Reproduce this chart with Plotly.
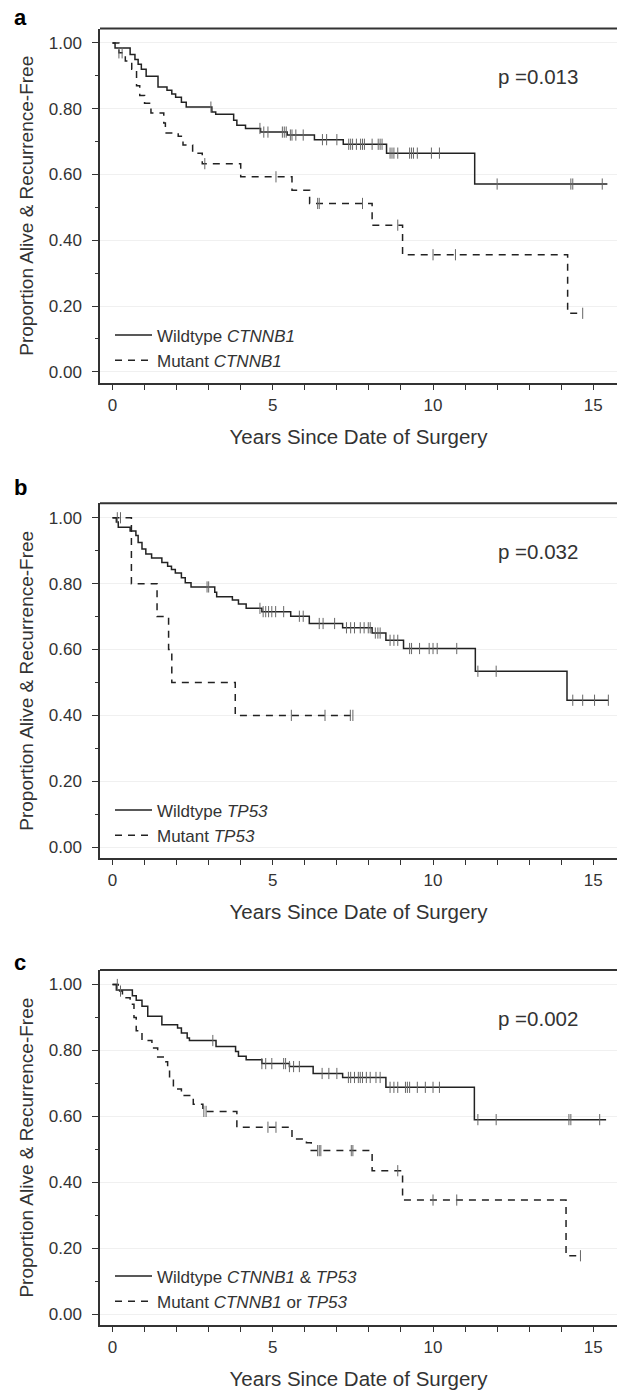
import numpy as np
import plotly.graph_objects as go

# ---------------- data ----------------
# Panel a: CTNNB1
a_wt_t = [0, 0.08, 0.55, 0.7, 0.8, 0.9, 1.05, 1.42, 1.7, 1.85, 1.97, 2.15, 2.3, 3.1, 3.22,
          3.78, 3.88, 4.15, 4.62, 5.45, 6.3, 7.2, 8.55, 11.3]
a_wt_s = [1.0, 0.985, 0.965, 0.95, 0.935, 0.92, 0.899, 0.866, 0.856, 0.845, 0.835, 0.82, 0.805,
          0.79, 0.783, 0.765, 0.75, 0.74, 0.729, 0.72, 0.706, 0.692, 0.665, 0.571]
a_wt_end = 15.44
a_wt_c = [3.07, 4.6, 4.72, 4.85, 5.3, 5.36, 5.42, 5.55, 5.6, 5.72, 5.95, 6.55, 6.68, 7.0, 7.37,
          7.43, 7.49, 7.61, 7.74, 7.8, 7.86, 8.1, 8.29, 8.35, 8.41, 8.66, 8.72, 8.78, 8.9, 9.27,
          9.33, 9.39, 9.51, 9.95, 10.2, 12.0, 14.3, 14.36, 15.28]

a_mu_t = [0, 0.2, 0.4, 0.6, 0.75, 0.85, 1.0, 1.2, 1.6, 1.65, 2.05, 2.2, 2.5, 2.8, 4.0, 5.6,
          6.15, 8.1, 9.05, 14.2]
a_mu_s = [1.0, 0.97, 0.945, 0.92, 0.87, 0.84, 0.817, 0.787, 0.757, 0.726, 0.716, 0.69, 0.665,
          0.633, 0.593, 0.552, 0.512, 0.446, 0.356, 0.178]
a_mu_end = 14.67
a_mu_c = [0.2, 0.3, 2.88, 5.1, 6.4, 6.45, 7.8, 8.9, 10.0, 10.7, 14.67]

# Panel b: TP53
b_wt_t = [0, 0.12, 0.18, 0.55, 0.73, 0.8, 0.92, 1.04, 1.22, 1.54, 1.72, 1.84, 1.96, 2.15, 2.27,
          2.45, 3.19, 3.25, 3.74, 3.93, 4.17, 4.66, 5.56, 6.14, 7.18, 8.1, 8.53, 9.08, 11.32, 14.18]
b_wt_s = [1.0, 0.987, 0.971, 0.96, 0.946, 0.925, 0.905, 0.89, 0.878, 0.864, 0.853, 0.843, 0.832,
          0.818, 0.803, 0.79, 0.774, 0.76, 0.75, 0.738, 0.725, 0.715, 0.701, 0.679, 0.666, 0.65,
          0.628, 0.603, 0.534, 0.446]
b_wt_end = 15.47
b_wt_c = [2.95, 3.0, 4.6, 4.7, 4.78, 4.87, 4.97, 5.09, 5.34, 5.83, 5.95, 6.45, 6.57, 6.93, 7.3,
          7.43, 7.55, 7.73, 7.85, 7.98, 8.04, 8.2, 8.28, 8.35, 8.66, 8.78, 8.9, 9.27, 9.33, 9.58,
          9.88, 10.0, 10.13, 10.74, 11.4, 11.97, 14.36, 14.67, 15.04, 15.47]

b_mu_t = [0, 0.59, 1.39, 1.75, 1.85, 3.83]
b_mu_s = [1.0, 0.8, 0.7, 0.6, 0.5, 0.4]
b_mu_end = 7.5
b_mu_c = [0.15, 0.25, 5.58, 6.63, 7.42, 7.5]

# Panel c: CTNNB1 & TP53
c_wt_t = [0, 0.12, 0.62, 0.74, 0.92, 1.1, 1.54, 2.03, 2.15, 2.33, 2.4, 3.23, 3.84, 3.93, 4.17,
          4.66, 5.52, 6.26, 7.18, 8.53, 11.29]
c_wt_s = [1.0, 0.983, 0.966, 0.952, 0.934, 0.904, 0.878, 0.868, 0.853, 0.838, 0.83, 0.812, 0.797,
          0.782, 0.772, 0.76, 0.751, 0.73, 0.718, 0.688, 0.59]
c_wt_end = 15.4
c_wt_c = [3.13, 4.66, 4.78, 4.97, 5.34, 5.4, 5.52, 5.65, 5.83, 6.54, 6.75, 7.0, 7.36, 7.43, 7.55,
          7.67, 7.73, 7.8, 7.92, 8.04, 8.22, 8.35, 8.66, 8.78, 8.9, 9.14, 9.2, 9.27, 9.51, 9.76,
          10.0, 10.2, 11.4, 11.97, 14.24, 14.3, 15.2]

c_mu_t = [0, 0.18, 0.31, 0.55, 0.67, 0.74, 0.92, 1.23, 1.41, 1.66, 1.72, 1.78, 1.9, 2.15, 2.52,
          2.82, 3.88, 5.6, 6.05, 6.2, 8.1, 9.05, 14.15]
c_mu_s = [1.0, 0.98, 0.96, 0.94, 0.90, 0.86, 0.83, 0.807, 0.78, 0.766, 0.745, 0.718, 0.683, 0.663,
          0.637, 0.615, 0.567, 0.531, 0.52, 0.496, 0.435, 0.346, 0.177]
c_mu_end = 14.65
c_mu_c = [0.15, 0.25, 2.85, 2.92, 4.85, 5.1, 6.4, 6.45, 6.5, 7.45, 7.5, 8.9, 10.0, 10.74, 14.6]

panel_letters = ["a", "b", "c"]
p_values = ["p =0.013", "p =0.032", "p =0.002"]
wt_names = ["Wildtype <i>CTNNB1</i>", "Wildtype <i>TP53</i>", "Wildtype <i>CTNNB1</i> & <i>TP53</i>"]
mu_names = ["Mutant <i>CTNNB1</i>", "Mutant <i>TP53</i>", "Mutant <i>CTNNB1</i> or <i>TP53</i>"]
x_title = "Years Since Date of Surgery"
y_title = "Proportion Alive & Recurrence-Free"

panels = [
    (a_wt_t, a_wt_s, a_wt_end, a_wt_c, a_mu_t, a_mu_s, a_mu_end, a_mu_c),
    (b_wt_t, b_wt_s, b_wt_end, b_wt_c, b_mu_t, b_mu_s, b_mu_end, b_mu_c),
    (c_wt_t, c_wt_s, c_wt_end, c_wt_c, c_mu_t, c_mu_s, c_mu_end, c_mu_c),
]

# ---------------- layout geometry ----------------
W, H = 617, 1391
FONT = "Liberation Sans, Arial, Helvetica, sans-serif"
TXT = "#333333"
LINE = "#222222"
CENS = "#666666"

# pixel boxes (top, bottom) of each plot panel
boxes = [(28.5, 383.0), (503.3, 858.3), (970.0, 1325.3)]
label_y = [18, 487, 962]
legend_mid = [348, 823, 1289]
x_left_px = 100

def step_value(t, s, x):
    t = np.asarray(t); s = np.asarray(s)
    idx = np.searchsorted(t, np.asarray(x), side="right") - 1
    return s[np.clip(idx, 0, len(s) - 1)]

fig = go.Figure()
layout = dict(
    width=W, height=H, margin=dict(l=0, r=0, t=0, b=0),
    paper_bgcolor="white", plot_bgcolor="white",
    font=dict(family=FONT, color=TXT, size=17),
    annotations=[], shapes=[],
)

for i, (wt_t, wt_s, wt_end, wt_c, mu_t, mu_s, mu_end, mu_c) in enumerate(panels):
    n = "" if i == 0 else str(i + 1)
    xa, ya = "x" + n, "y" + n
    leg = "legend" + n
    # curves
    fig.add_trace(go.Scatter(
        x=list(wt_t) + [wt_end], y=list(wt_s) + [wt_s[-1]], mode="lines",
        line=dict(shape="hv", color=LINE, width=1.5), name=wt_names[i],
        xaxis=xa, yaxis=ya, legend=leg))
    fig.add_trace(go.Scatter(
        x=list(mu_t) + [mu_end], y=list(mu_s) + [mu_s[-1]], mode="lines",
        line=dict(shape="hv", color=LINE, width=1.5, dash="7px,6px"), name=mu_names[i],
        xaxis=xa, yaxis=ya, legend=leg))
    # censor marks
    fig.add_trace(go.Scatter(
        x=wt_c, y=step_value(wt_t, wt_s, wt_c), mode="markers",
        marker=dict(symbol="line-ns", size=8, line=dict(width=1, color=CENS)),
        showlegend=False, hoverinfo="skip", xaxis=xa, yaxis=ya))
    fig.add_trace(go.Scatter(
        x=mu_c, y=step_value(mu_t, mu_s, mu_c), mode="markers",
        marker=dict(symbol="line-ns", size=8, line=dict(width=1, color=CENS)),
        showlegend=False, hoverinfo="skip", xaxis=xa, yaxis=ya))

    top, bot = boxes[i]
    ydom = [1 - bot / H, 1 - top / H]
    layout["xaxis" + n] = dict(
        domain=[x_left_px / W, 1.0], range=[-0.39, 15.74], anchor=ya,
        tickmode="linear", tick0=0, dtick=5, ticks="outside", ticklen=5, tickwidth=1,
        tickcolor=TXT, minor=dict(tick0=0, dtick=1, ticks="outside", ticklen=5,
                                  tickcolor=TXT, showgrid=False),
        showline=True, linewidth=1.5, linecolor=TXT, mirror=False,
        showgrid=False, zeroline=False, tickfont=dict(size=17, color=TXT),
        ticklabelstandoff=1,
        title=dict(text=x_title, font=dict(size=20.5, color=TXT), standoff=15),
    )
    layout["yaxis" + n] = dict(
        domain=ydom, range=[-0.034, 1.044], anchor=xa,
        tickmode="linear", tick0=0, dtick=0.2, tickformat=".2f",
        ticks="outside", ticklen=6, tickwidth=1, tickcolor=TXT,
        minor=dict(tick0=0, dtick=0.1, ticks="outside", ticklen=3, tickcolor=TXT,
                   showgrid=False),
        showline=True, linewidth=1.5, linecolor=TXT, mirror=False,
        showgrid=True, gridcolor="#f0f0f0", gridwidth=1, zeroline=False,
        tickfont=dict(size=17, color=TXT), ticklabelstandoff=7,
        title=dict(text=y_title, font=dict(size=19, color=TXT), standoff=10),
    )
    # top frame line of the panel (heavier in the reference)
    layout["shapes"].append(dict(
        type="line", xref=xa + " domain", yref=ya + " domain",
        x0=0, x1=1, y0=1, y1=1, line=dict(color=TXT, width=2)))
    layout[leg] = dict(
        x=110 / W, xanchor="left", y=1 - legend_mid[i] / H, yanchor="middle",
        bgcolor="rgba(0,0,0,0)", borderwidth=0, font=dict(size=17, color=TXT),
        itemwidth=37, tracegroupgap=0,
    )
    layout["annotations"].append(dict(
        text="<b>" + panel_letters[i] + "</b>", xref="paper", yref="paper",
        x=12 / W, y=1 - label_y[i] / H, xanchor="left", yanchor="middle",
        showarrow=False, font=dict(size=22, color="#000000")))
    layout["annotations"].append(dict(
        text=p_values[i], xref=xa, yref=ya, x=11.95, y=0.897,
        xanchor="left", yanchor="middle", showarrow=False,
        font=dict(size=20.5, color=TXT)))

fig.update_layout(**layout)
fig.write_html(
    "out.html",
    config={"displayModeBar": False},
    post_script="document.body.style.margin='0';document.body.style.overflow='hidden';",
)
